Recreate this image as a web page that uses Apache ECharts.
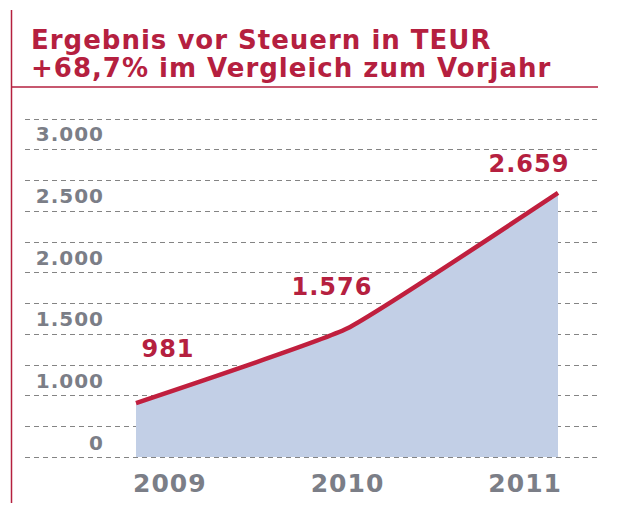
<!DOCTYPE html>
<html>
<head>
<meta charset="utf-8">
<script src="https://cdn.jsdelivr.net/npm/echarts@6/dist/echarts.min.js"></script>
<style>
    html, body {margin: 0; padding: 0; background: #fff;}
    #main {width: 631px; height: 512px;}
    /* Schrift im Original ist sehr breit gesetzt */
    #main text {letter-spacing: 1px;}
</style>
</head>
<body>
<div id="main"></div>
<script>
    // Daten
    var years = ['2009', '2010', '2011'];
    var ergebnis = [981, 1576, 2659];//TEUR
    var yTickLabels = ['0', '1.000', '1.500', '2.000', '2.500', '3.000'];

    var red = '#b5203f';
    var gray = '#7b7e87';
    var font = 'DejaVu Sans';

    //deutsche Tausenderpunkte
    function de(v) {
        return String(v).replace(/\B(?=(\d{3})+(?!\d))/g, '.');
    }

    // Beschriftung der Werte etwas neben den Punkten
    var labelOffsets = [[32, -54], [-15, -42], [-29, -29]];

    var seriesData = [];
    for (var i = 0; i < ergebnis.length; i++) {
        seriesData.push({value: ergebnis[i], label: {offset: labelOffsets[i]}});
    }

    var option = {
        animation: false,
        backgroundColor: '#fff',
        title: {
            text: 'Ergebnis vor Steuern in TEUR\n+68,7% im Vergleich zum Vorjahr',
            left: 26,
            top: 21,
            textStyle: {
                color: red,
                fontFamily: font,
                fontWeight: 'bold',
                fontSize: 26,
                lineHeight: 28
            }
        },
        graphic: [
            {type: 'line', shape: {x1: 11.5, y1: 10, x2: 11.5, y2: 503}, style: {stroke: red, lineWidth: 1.5}},
            {type: 'line', shape: {x1: 11.5, y1: 87, x2: 598, y2: 87}, style: {stroke: red, lineWidth: 1.5}}
        ],
        grid: [
            {left: 25, right: 33, top: 119, bottom: 55},  // gestrichelte Linien
            {left: 104, width: 1, top: 103, bottom: 38},  // y Beschriftung
            {left: 136, right: 73, top: 119, bottom: 55}, // Fläche
            {left: 81, right: 17, top: 119, bottom: 55}   // Jahre
        ],
        xAxis: [
            {gridIndex: 0, type: 'value', show: false},
            {gridIndex: 1, type: 'value', show: false},
            {gridIndex: 2, type: 'category', data: years, boundaryGap: false, show: false},
            {
                gridIndex: 3, type: 'category', data: years, boundaryGap: true,
                axisLine: {show: false}, axisTick: {show: false},
                axisLabel: {margin: 14, color: gray, fontFamily: font, fontWeight: 'bold', fontSize: 25}
            }
        ],
        yAxis: [
            {
                gridIndex: 0, type: 'value', min: 0, max: 11, interval: 1,
                axisLine: {show: false}, axisTick: {show: false}, axisLabel: {show: false},
                splitLine: {lineStyle: {color: '#848484', width: 1, type: [5, 4]}}
            },
            {
                gridIndex: 1, type: 'category', data: yTickLabels, boundaryGap: true,
                axisLine: {show: false}, axisTick: {show: false}, splitLine: {show: false},
                axisLabel: {margin: 0, color: gray, fontFamily: font, fontWeight: 'bold', fontSize: 20}
            },
            {gridIndex: 2, type: 'value', min: 550, max: 3250, show: false, splitLine: {show: false}},
            {gridIndex: 3, type: 'value', show: false, splitLine: {show: false}}
        ],
        series: [{
            name: 'Ergebnis vor Steuern',
            type: 'line',
            xAxisIndex: 2,
            yAxisIndex: 2,
            data: seriesData,
            smooth: 0.12,
            symbol: 'circle',
            symbolSize: 0,
            showSymbol: true,
            lineStyle: {color: '#c01f3e', width: 4.5},
            itemStyle: {color: '#c01f3e'},
            areaStyle: {color: '#c2cfe6', opacity: 1, origin: 'start'},
            label: {
                show: true,
                position: 'inside',
                color: red,
                fontFamily: font,
                fontWeight: 'bold',
                fontSize: 24,
                formatter: function (p) {
                    return de(p.value);
                }
            }
        }]
    };

    var myChart = echarts.init(document.getElementById('main'), null, {renderer: 'svg'});
    myChart.setOption(option);
</script>
</body>
</html>
